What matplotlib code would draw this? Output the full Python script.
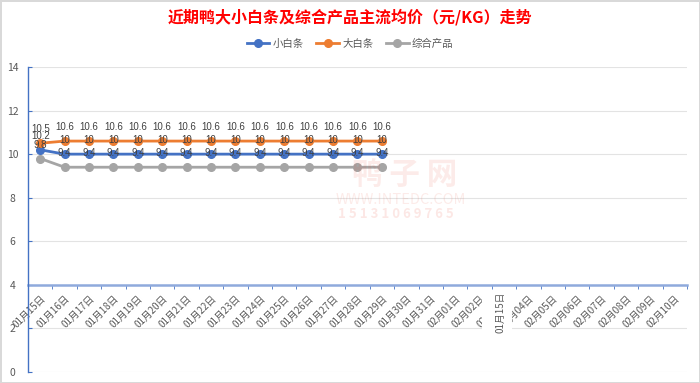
import matplotlib
matplotlib.use("Agg")
import matplotlib.pyplot as plt
from matplotlib.patches import Rectangle

plt.rcParams['font.family'] = ['Noto Sans CJK SC', 'DejaVu Sans']

dates = ["01月15日", "01月16日", "01月17日", "01月18日", "01月19日", "01月20日",
         "01月21日", "01月22日", "01月23日", "01月24日", "01月25日", "01月26日",
         "01月27日", "01月28日", "01月29日", "01月30日", "01月31日", "02月01日",
         "02月02日", "02月03日", "02月04日", "02月05日", "02月06日", "02月07日",
         "02月08日", "02月09日", "02月10日"]
small_white = [10.2, 10, 10, 10, 10, 10, 10, 10, 10, 10, 10, 10, 10, 10, 10]
big_white = [10.5, 10.6, 10.6, 10.6, 10.6, 10.6, 10.6, 10.6, 10.6, 10.6, 10.6, 10.6, 10.6, 10.6, 10.6]
mixed = [9.8, 9.4, 9.4, 9.4, 9.4, 9.4, 9.4, 9.4, 9.4, 9.4, 9.4, 9.4, 9.4, 9.4, 9.4]
series = [("小白条", small_white, "#4472C4"),
          ("大白条", big_white, "#ED7D31"),
          ("综合产品", mixed, "#A5A5A5")]

fig = plt.figure(figsize=(7.0, 3.83), dpi=100)
fig.patch.set_edgecolor("#d9d9d9")
fig.patch.set_linewidth(1.0)
ax = fig.add_axes([28/700, 1-372/383, (687-28)/700, (372-67)/383])

n = len(dates)
ax.set_xlim(-0.5, n - 0.5)
ax.set_ylim(0, 14)
ax.set_yticks(range(0, 15, 2))
ax.grid(axis="y", color="#e3e3e3", linewidth=0.8, zorder=0)
ax.set_axisbelow(True)

for name, vals, col in series:
    xs = list(range(len(vals)))
    ax.plot(xs, vals, color=col, linewidth=2.0, marker="o", markersize=5.5,
            label=name, zorder=3)
    for x, v in zip(xs, vals):
        ax.annotate(f"{v:g}", (x, v), xytext=(0, 10), textcoords="offset points",
                    ha="center", va="center", fontsize=7, color="#404040",
                    family=["Liberation Sans", "DejaVu Sans"], zorder=4)

for s in ["top", "right"]:
    ax.spines[s].set_visible(False)
ax.spines["left"].set_color("#4472C4")
ax.spines["left"].set_linewidth(1.0)
ax.spines["bottom"].set_position(("data", 4))
ax.spines["bottom"].set_color("#8FAADC")
ax.spines["bottom"].set_linewidth(1.8)
ax.spines["bottom"].set_zorder(2)

ax.set_xticks(range(n))
ax.set_xticklabels(dates, rotation=45, ha="right", rotation_mode="anchor",
                   fontsize=7, color="#595959")
ax.tick_params(axis="x", which="major", length=0, pad=6)
ax.set_xticks([i + 0.5 for i in range(-1, n)], minor=True)
ax.tick_params(axis="x", which="minor", length=3, direction="out", color="#4472C4")
ax.tick_params(axis="y", length=3, direction="in", color="#4472C4",
               labelsize=7.5, labelcolor="#595959", pad=11)
for lab in ax.get_yticklabels():
    lab.set_horizontalalignment("center")

fig.text(0.5, 1-17/383, "近期鸭大小白条及综合产品主流均价（元/KG）走势", ha="center",
         va="center", fontsize=11.5, fontweight="bold", color="#FF0000")

leg = fig.legend(loc="center", bbox_to_anchor=(0.5, 1-44/383), ncol=3,
                 frameon=False, fontsize=7.5, handlelength=2.2,
                 columnspacing=1.2, handletextpad=0.3)
for t in leg.get_texts():
    t.set_color("#595959")

# watermark
fig.text(405/700, 1-175/383, "鸭 子 网", ha="center", va="center", fontsize=22,
         fontweight="bold", color="#E8402A", alpha=0.10)
fig.text(401/700, 1-200/383, "WWW.INTEDC.COM", ha="center", va="center",
         fontsize=10.5, color="#E8402A", alpha=0.10)
fig.text(396/700, 1-214/383, "1 5 1 3 1 0 6 9 7 6 5", ha="center", va="center",
         fontsize=9.5, fontweight="bold", color="#E8402A", alpha=0.12)

# stray label over axis labels
fig.add_artist(Rectangle((482/700, 1-336/383), 30/700, 44/383,
                         transform=fig.transFigure, facecolor="white",
                         edgecolor="none", zorder=5))
fig.text(500/700, 1-312/383, "01月15日", rotation=90, ha="center", va="center",
         fontsize=7, color="#595959", zorder=6)

fig.savefig("out.png", dpi=100)
